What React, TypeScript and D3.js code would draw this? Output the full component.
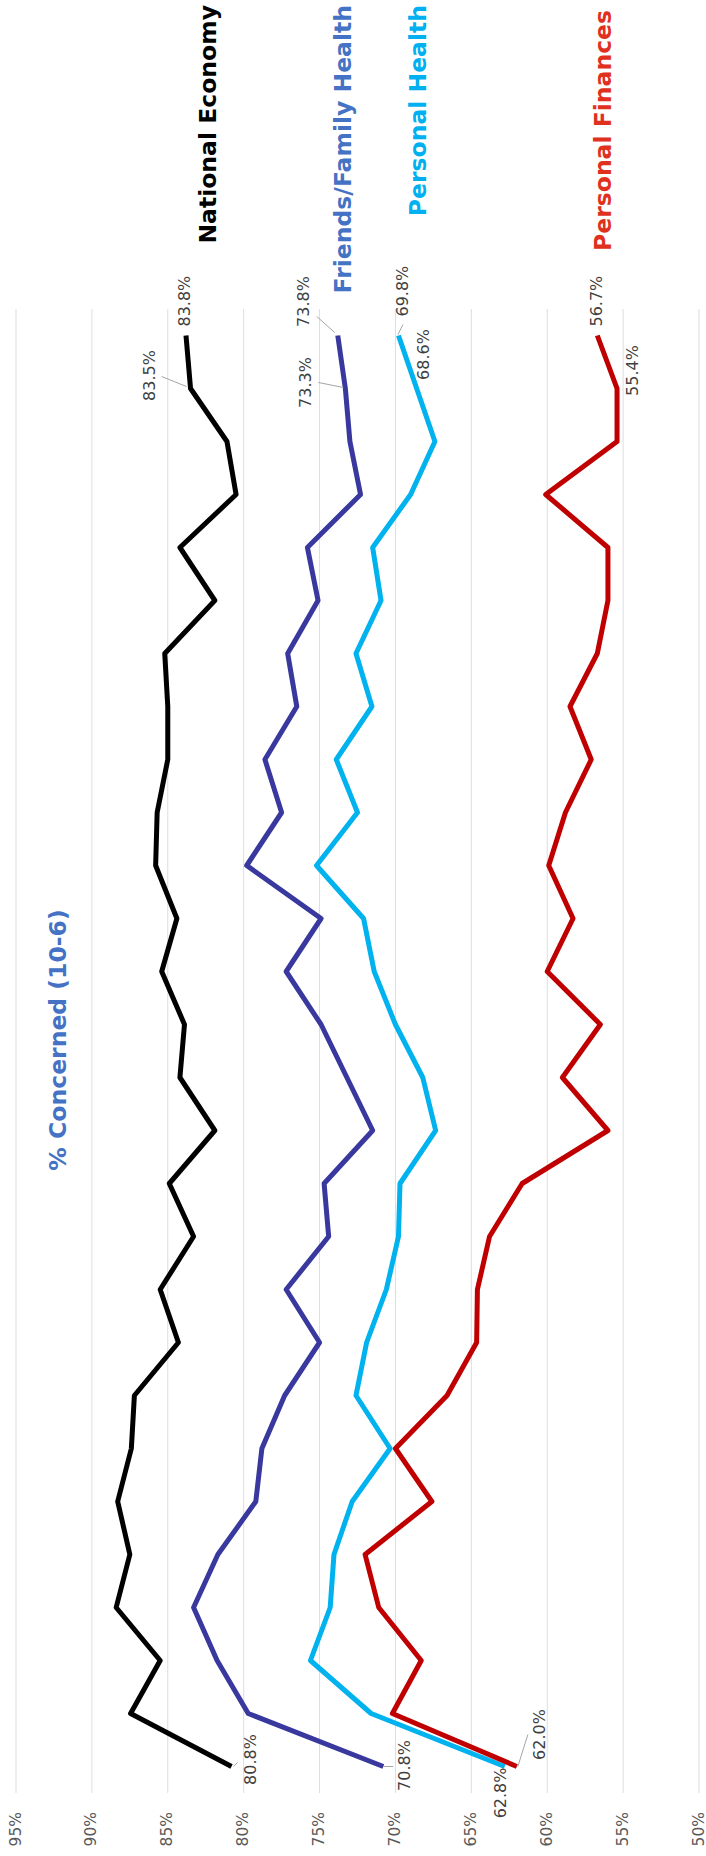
import React from 'react';
import * as d3 from 'd3';

// survey waves, oldest first
const waves = d3.range(1, 29).map(String);

const nationalEconomy = [80.8, 87.45, 85.5, 88.4, 87.5, 88.3, 87.4, 87.2, 84.3, 85.5, 83.3, 84.9, 81.9, 84.2,
  83.9, 85.4, 84.4, 85.8, 85.7, 85.0, 85.0, 85.2, 81.9, 84.2, 80.5, 81.1, 83.5, 83.8];
const friendsFamilyHealth = [70.8, 79.7, 81.75, 83.3, 81.7, 79.2, 78.8, 77.3, 75.0, 77.2, 74.4, 74.7, 71.5, 73.2,
  74.9, 77.2, 74.9, 79.8, 77.5, 78.6, 76.5, 77.1, 75.1, 75.8, 72.3, 73.0, 73.3, 73.8];
const personalHealth = [62.8, 71.6, 75.6, 74.3, 74.05, 72.85, 70.35, 72.6, 71.9, 70.6, 69.8, 69.7, 67.35, 68.2,
  70.0, 71.4, 72.1, 75.2, 72.5, 73.9, 71.55, 72.6, 70.95, 71.5, 69.0, 67.4, 68.6, 69.8];
const personalFinances = [62.0, 70.2, 68.3, 71.1, 72.0, 67.6, 70.0, 66.6, 64.65, 64.6, 63.8, 61.65, 56.0, 59.0,
  56.5, 60.0, 58.3, 59.9, 58.8, 57.1, 58.5, 56.7, 56.0, 56.0, 60.1, 55.4, 55.4, 56.7];

const seriesNames = ['National Economy', 'Friends/Family Health', 'Personal Health', 'Personal Finances'];
const tickValues = [50, 55, 60, 65, 70, 75, 80, 85, 90, 95];

const W = 706;
const H = 1856;

// the chart is laid out landscape and then turned a quarter turn left
const series = [
  { name: seriesNames[0], values: nationalEconomy, stroke: '#000000', text: '#000000', legendY: 216, legendEnd: 1851 },
  { name: seriesNames[1], values: friendsFamilyHealth, stroke: '#38389E', text: '#4472C4', legendY: 351, legendEnd: 1851 },
  { name: seriesNames[2], values: personalHealth, stroke: '#00B2EE', text: '#00B0F0', legendY: 426, legendEnd: 1851 },
  { name: seriesNames[3], values: personalFinances, stroke: '#C00000', text: '#E0301E', legendY: 611, legendEnd: 1846 },
];

// label placement relative to each point: [series, index, dx, dy, anchor, leader]
const labelSpots: [number, number, number, number, string, number[] | null][] = [
  [0, 27, 9, 0, 'start', null],
  [0, 26, 13, -40, 'middle', [12, -29, 2, -4]],
  [0, 0, 7, 20, 'middle', [0, 2, 4, 6]],
  [1, 27, 34, -33, 'middle', [19, -21, 3, -3]],
  [1, 26, 6, -39, 'middle', [6, -27, 1, -2]],
  [1, 0, 1, 22, 'middle', [0, 0, 0, 10]],
  [2, 27, 19, 5, 'start', [11, 4.5, 1, -0.5]],
  [2, 26, 34, 8, 'middle', null],
  [2, 0, -1, -3, 'end', null],
  [3, 27, 9, 0, 'start', null],
  [3, 26, 18, 16, 'middle', null],
  [3, 0, 32, 24, 'middle', [0, 1, 32, 11]],
];

const App = () => {
  const x = d3.scalePoint().domain(waves).range([63, 1547]).padding(0.5);
  const y = d3.scaleLinear().domain([50, 95]).range([699, 16]);

  const line = d3.line<number>()
    .x((_, i) => x(waves[i]) as number)
    .y(d => y(d));

  const font = "'DejaVu Sans', sans-serif";

  return (
    <div style={{ position: 'absolute', left: 0, top: 0 }}>
      <svg width={W} height={H} style={{ display: 'block', background: '#fff' }}>
        <g transform={`translate(0,${H}) rotate(-90)`}>
          {/* gridlines and value labels */}
          {tickValues.map(t => (
            <g key={t}>
              <line x1={63} x2={1547} y1={y(t)} y2={y(t)} stroke="#DDDDDD" strokeWidth={1} />
              <text x={44} y={y(t)} textAnchor="end" dominantBaseline="middle"
                fontFamily={font} fontSize={15.5} fill="#595959">{t}%</text>
            </g>
          ))}

          <text x={816} y={66} textAnchor="middle" fontFamily={font} fontWeight="bold"
            fontSize={23.5} fill="#4472C4">% Concerned (10-6)</text>

          {series.map(s => (
            <path key={s.name} d={line(s.values) || ''} fill="none" stroke={s.stroke}
              strokeWidth={5} strokeLinejoin="round" strokeLinecap="butt" />
          ))}

          {labelSpots.map(([si, idx, dx, dy, anchor, leader]) => {
            const px = x(waves[idx]) as number;
            const py = y(series[si].values[idx]);
            return (
              <g key={`${si}-${idx}`}>
                {leader && (
                  <line x1={px + leader[0]} y1={py + leader[1]} x2={px + leader[2]} y2={py + leader[3]}
                    stroke="#A6A6A6" strokeWidth={1} />
                )}
                <text x={px + dx} y={py + dy} textAnchor={anchor} dominantBaseline="middle"
                  fontFamily={font} fontSize={16} fill="#404040">
                  {series[si].values[idx].toFixed(1)}%
                </text>
              </g>
            );
          })}

          {series.map(s => (
            <text key={`lg-${s.name}`} x={s.legendEnd} y={s.legendY} textAnchor="end"
              fontFamily={font} fontWeight="bold" fontSize={23.5} fill={s.text}>{s.name}</text>
          ))}
        </g>
      </svg>
    </div>
  );
};

export default App;
